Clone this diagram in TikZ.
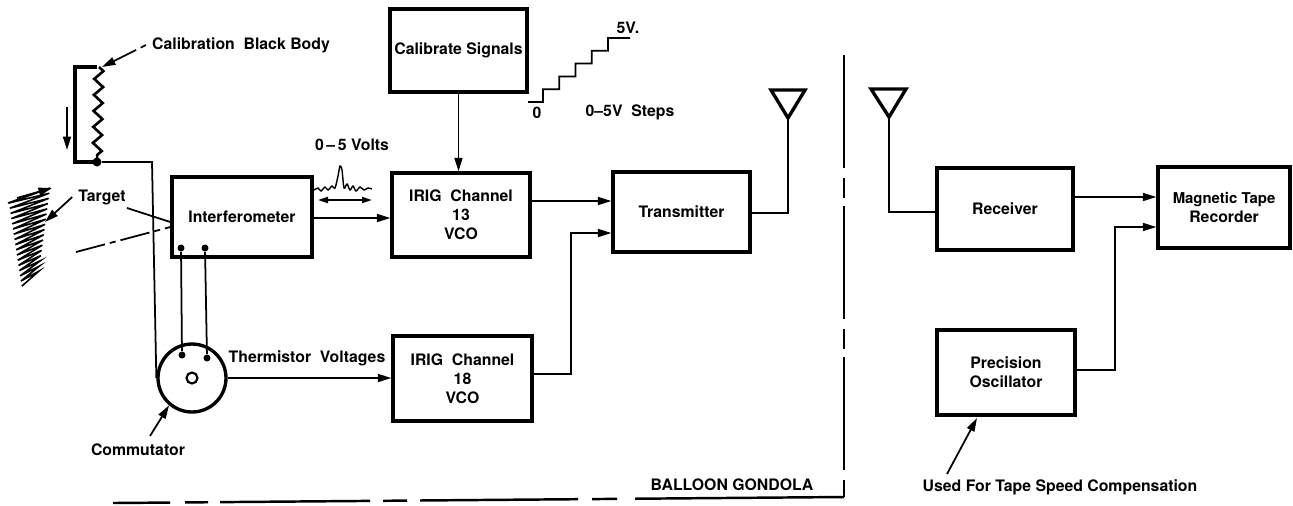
\documentclass[tikz,border=0pt]{standalone}
\usepackage{fontspec}
\setmainfont{TeX Gyre Heros}
\usetikzlibrary{arrows.meta,decorations.pathmorphing}

\begin{document}
\begin{tikzpicture}[x=0.02cm,y=-0.02cm,
  font=\fontsize{9}{10.8}\selectfont\bfseries,
  blk/.style={draw,line width=1.9pt,align=center,inner sep=0pt},
  wire/.style={line width=1pt},
  arr/.style={wire,-{Triangle[length=2.7mm,width=1.6mm]}},
  dot/.style={circle,fill,inner sep=0pt,minimum size=1.4mm}]
\useasboundingbox (0,0) rectangle (1293,505);

% blocks
\node[blk,minimum width=2.8cm,minimum height=1.6cm] (interf) at (242,217) {Interferometer};
\node[blk,minimum width=2.74cm,minimum height=1.66cm] (cal) at (458.5,50.5) {Calibrate Signals};
\node[blk,minimum width=2.76cm,minimum height=1.68cm] (vco13) at (461,215) {IRIG\ \ Channel\\13\\VCO};
\node[blk,minimum width=2.78cm,minimum height=1.7cm] (vco18) at (462.5,378.5) {IRIG\ \ Channel\\18\\VCO};
\node[blk,minimum width=2.74cm,minimum height=1.6cm] (tx) at (681.5,212) {Transmitter};
\node[blk,minimum width=2.72cm,minimum height=1.64cm] (rx) at (1005,209) {Receiver};
\node[blk,minimum width=2.64cm,minimum height=1.62cm] (mtr) at (1224,207.5) {\fontsize{8.5}{10.5}\selectfont Magnetic Tape\\Recorder};
\node[blk,minimum width=2.76cm,minimum height=1.7cm] (osc) at (1006,372.5) {Precision\\Oscillator};

% commutator
\node[circle,draw,line width=1.9pt,minimum size=1.36cm,inner sep=0pt] (comm) at (192,378) {};
\draw[line width=1.2pt] (comm) circle[radius=0.11cm];
\node[dot] (i1) at (181,248) {};
\node[dot] (i2) at (205,248) {};
\node[dot] (c1) at (182,355) {};
\node[dot] (c2) at (207,358) {};
\draw[wire] (i1) -- (c1);
\draw[wire] (i2) -- (c2);

% calibration black body
\draw[line width=1.9pt] (97,67) -- (75,67) -- (75,162) -- (97,162);
\draw[line width=1.5pt,decorate,decoration={zigzag,segment length=0.32cm,amplitude=0.09cm}] (99,67) -- (97,162);
\node[dot,minimum size=1.8mm] (bb) at (97,162) {};
\draw[wire] (bb) -- (152,162) -- (comm.west);
\draw[arr] (67,107) -- (67,150);
\node (bblbl) at (241,45) {Calibration\ \ Black Body};
\draw[arr,dash pattern=on 0.12cm off 0.1cm on 3cm] (bblbl.west) -- (102,67);

% target
\draw[line width=0.9pt] (8,203) \foreach \i in {0,...,16} { -- ({50-0.7*\i},{188+5.2*\i}) -- ({9+0.8*\i},{203+5.2*\i}) };
\draw[arr] (17,198) -- (52,188);
\node (tgt) at (102,197) {Target};
\draw[arr] (tgt.west) -- (45,222);
\draw[wire] (127,208) -- (interf.west |- 0,222);
\draw[wire,dash pattern=on 0.6cm off 0.1cm on 0.12cm off 0.1cm] (76,252) -- (interf.west |- 0,227);

% signal paths
\draw[arr] (interf.east |- 0,218) -- (vco13.west |- 0,218);
\draw[arr] (cal.south) -- (cal.south |- vco13.north);
\draw[arr] (vco13.east |- 0,201) -- (tx.west |- 0,201);
\draw[arr] (vco18.east |- 0,374) -| (571,233) -- (tx.west |- 0,233);
\draw[arr] (comm.east) -- (vco18.west |- comm.east);
\node (thlbl) at (307,358) {Thermistor\ \ Voltages};
\node (commlbl) at (138,450) {Commutator};
\draw[arr] (150,436) -- (comm.230);

% 0-5 volts waveform
\node (vlbl) at (352,145) {0\,–\,5 Volts};
\draw[line width=0.8pt] plot[smooth] coordinates {(314,190) (318,188) (321,191) (325,187) (328,190) (332,186) (335,188) (338,176) (340,166) (342,170) (344,188) (347,184) (350,190) (353,186) (356,191) (360,187) (364,190) (368,188) (372,189)};
\draw[wire,{Triangle[length=2mm,width=1.2mm]}-{Triangle[length=2mm,width=1.2mm]}] (318,200) -- (372,200);

% staircase
\draw[wire] (528,102) \foreach \k in {0,...,4} { -- ({543+16.25*\k},{102-12.8*\k}) -- ({543+16.25*\k},{102-12.8*(\k+1)}) } -- (630,38);
\node at (628,28) {5V.};
\node at (537,113) {0};
\node at (630,112) {0–5V\ \ Steps};

% antennas
\coordinate (anttx) at (788,118);
\draw[line width=1.9pt] (771,90) -- (805,90) -- (anttx) -- cycle;
\draw[wire] (anttx) |- (tx.east |- 0,213);
\coordinate (antrx) at (889,117);
\draw[line width=1.9pt] (871,89) -- (906,89) -- (antrx) -- cycle;
\draw[wire] (antrx) |- (rx.west |- 0,212);

% ground station
\draw[arr] (rx.east |- 0,197) -- (mtr.west |- 0,197);
\draw[arr] (osc.east |- 0,370) -| (1115,227) -- (mtr.west |- 0,227);
\node (uselbl) at (1060,487) {Used For Tape Speed Compensation};
\draw[arr] (947,474) -- (977,418);

% gondola boundary
\draw[line width=1.2pt,dash pattern=on 2.26cm off 0.2cm on 0.4cm off 0.16cm] (844,55) -- (844,497);
\draw[line width=1.4pt,dash pattern=on 4.18cm off 0.36cm on 0.5cm off 0.28cm on 3.16cm off 0.26cm on 0.48cm off 0.26cm on 3cm off 0.24cm on 0.46cm off 0.3cm on 1.14cm off 1cm] (844,497) -- (113,503);
\node (gond) at (732,485) {BALLOON GONDOLA};
\end{tikzpicture}
\end{document}
